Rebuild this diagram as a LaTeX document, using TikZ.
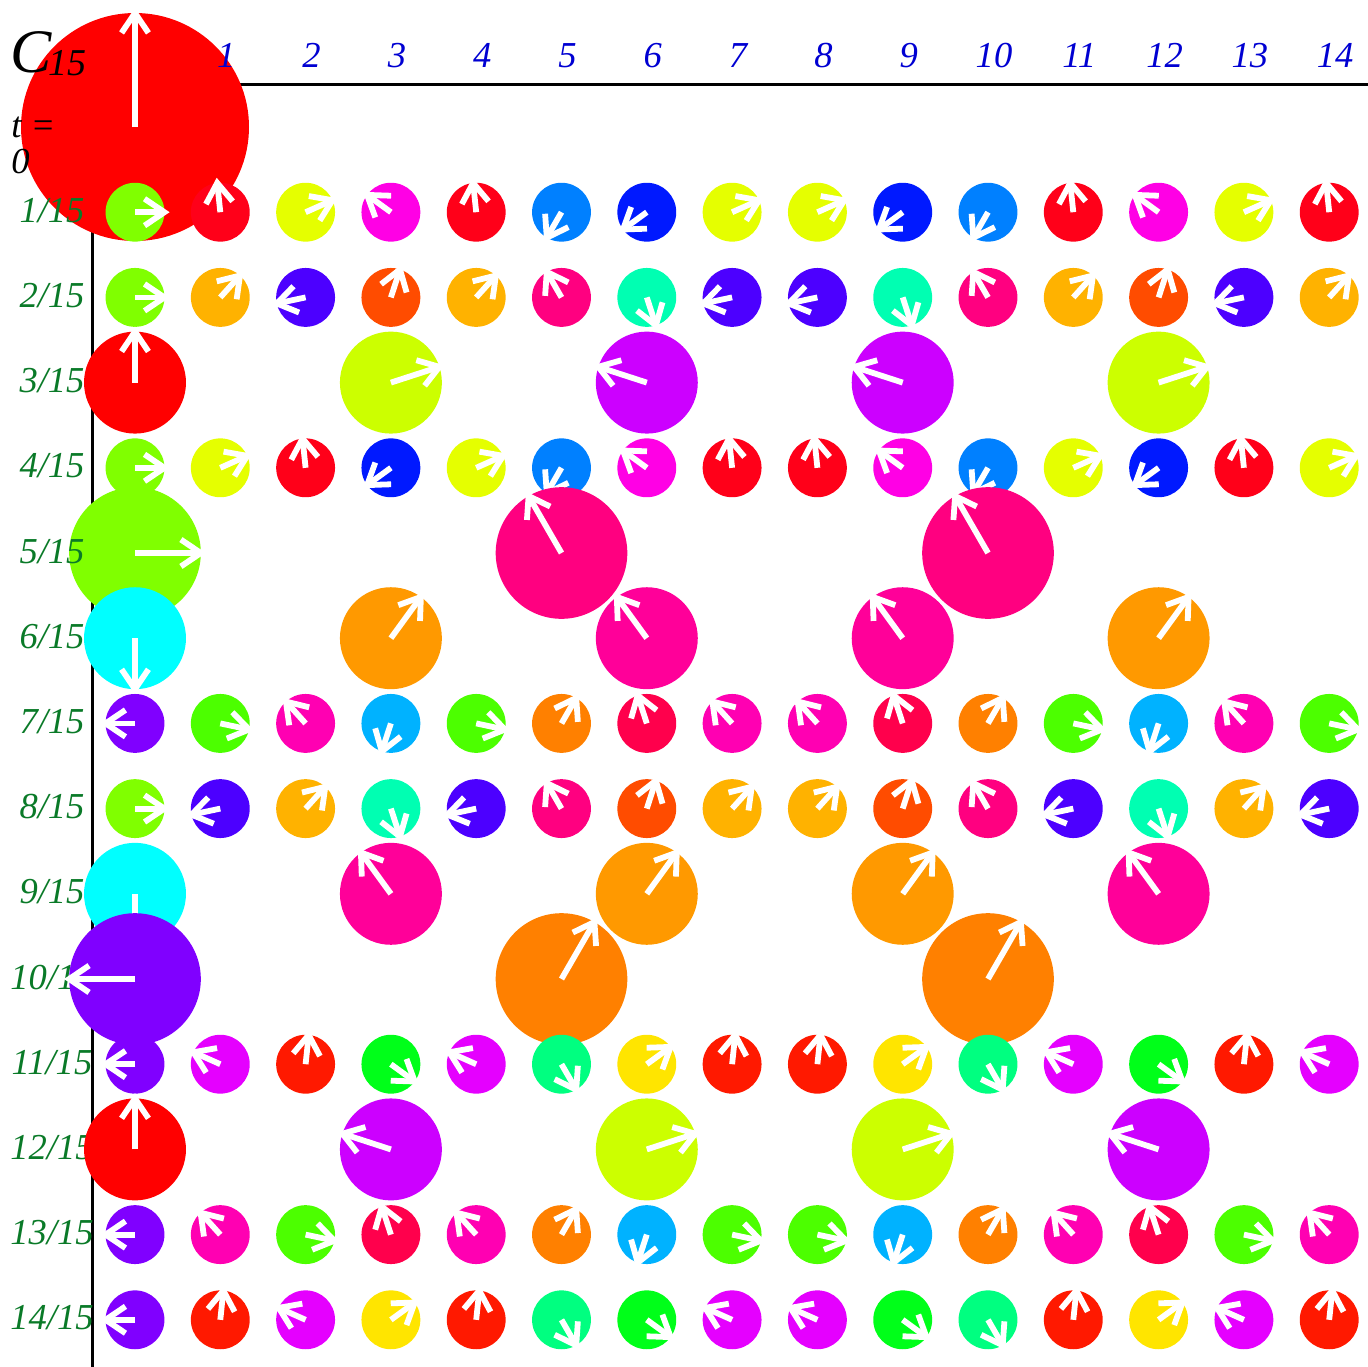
\documentclass[tikz,border=0pt]{standalone}
\usepackage{fontspec}
\setmainfont{Liberation Serif}
\usetikzlibrary{calc}

\definecolor{rowgreen}{RGB}{10,122,40}
\definecolor{colblue}{RGB}{0,0,210}

% one row of the walk on C_15 at time #1/15
\newcommand\drawrow[1]{%
  \foreach \x in {0,...,14}{%
    \gdef\sumre{0}\gdef\sumim{0}%
    \foreach \k in {0,...,14}{%
      \pgfmathtruncatemacro\idx{mod(\k*\x+\k*\k*#1,15)}%
      \pgfmathsetmacro\tmpre{\sumre+cos(24*\idx)}%
      \pgfmathsetmacro\tmpim{\sumim+sin(24*\idx)}%
      \global\let\sumre\tmpre
      \global\let\sumim\tmpim
    }%
    \pgfmathsetmacro\cellamp{sqrt(\sumre*\sumre+\sumim*\sumim)/15}%
    \ifdim\cellamp pt>0.05pt
      \pgfmathsetmacro\cellphase{mod(atan2(\sumim,\sumre)+360,360)}%
      \pgfmathsetmacro\cellrad{114*\cellamp}%
      \definecolor{phasecol}{Hsb}{\cellphase,1,1}%
      \coordinate (c-#1-\x) at ({135+85.3*\x},{127+85.2*#1});
      \fill[phasecol] (c-#1-\x) circle (\cellrad);
      \draw[phasor] (c-#1-\x) -- ++(\cellphase-90:\cellrad) coordinate (tip-#1-\x);
      \draw[phasor] (tip-#1-\x) ++(\cellphase+56:24) -- (tip-#1-\x) -- ++(\cellphase+124:24);
    \fi
  }%
}

\begin{document}
\begin{tikzpicture}[x=0.25mm, y=-0.25mm,
    axis/.style={line width=0.75mm},
    collabel/.style={text=colblue, font=\fontsize{26}{26}\selectfont\itshape, inner sep=0pt, anchor=base},
    rowlabel/.style={text=rowgreen, font=\fontsize{26}{26}\selectfont\itshape, inner sep=0pt, anchor=base},
    phasor/.style={white, line width=1.45mm, line join=miter}
  ]
  \useasboundingbox (0,0) rectangle (1368,1367);

  % axes
  \coordinate (origin) at (92,84);
  \coordinate (xend) at (1368,84);
  \coordinate (yend) at (92,1367);
  \draw[axis] (xend) -- (origin) -- (yend);

  % rows t = 0 ... 8/15
  \foreach \p in {0,...,8} {\drawrow{\p}}

  % header and row labels
  \node[anchor=base west, inner sep=0pt, font=\fontsize{44}{44}\selectfont\itshape] (title) at (10,72)
    {C\kern-0.8mm\raisebox{-0.8mm}{\fontsize{27}{27}\selectfont 15}};
  \node[anchor=base west, inner sep=0pt, font=\fontsize{26}{26}\selectfont\itshape] (tlabel) at (11,137) {t =};
  \node[anchor=base west, inner sep=0pt, font=\fontsize{26}{26}\selectfont\itshape] (tzero) at (11,173) {0};
  \foreach \x in {1,...,14}
    \node[collabel] (col-\x) at ({141+85.3*\x},67) {\x};
  \foreach \p in {1,...,14}
    \node[rowlabel] (row-\p) at (52,{137+85.2*\p}) {\p/15};

  % rows 9/15 ... 14/15
  \foreach \p in {9,...,14} {\drawrow{\p}}
\end{tikzpicture}
\end{document}
